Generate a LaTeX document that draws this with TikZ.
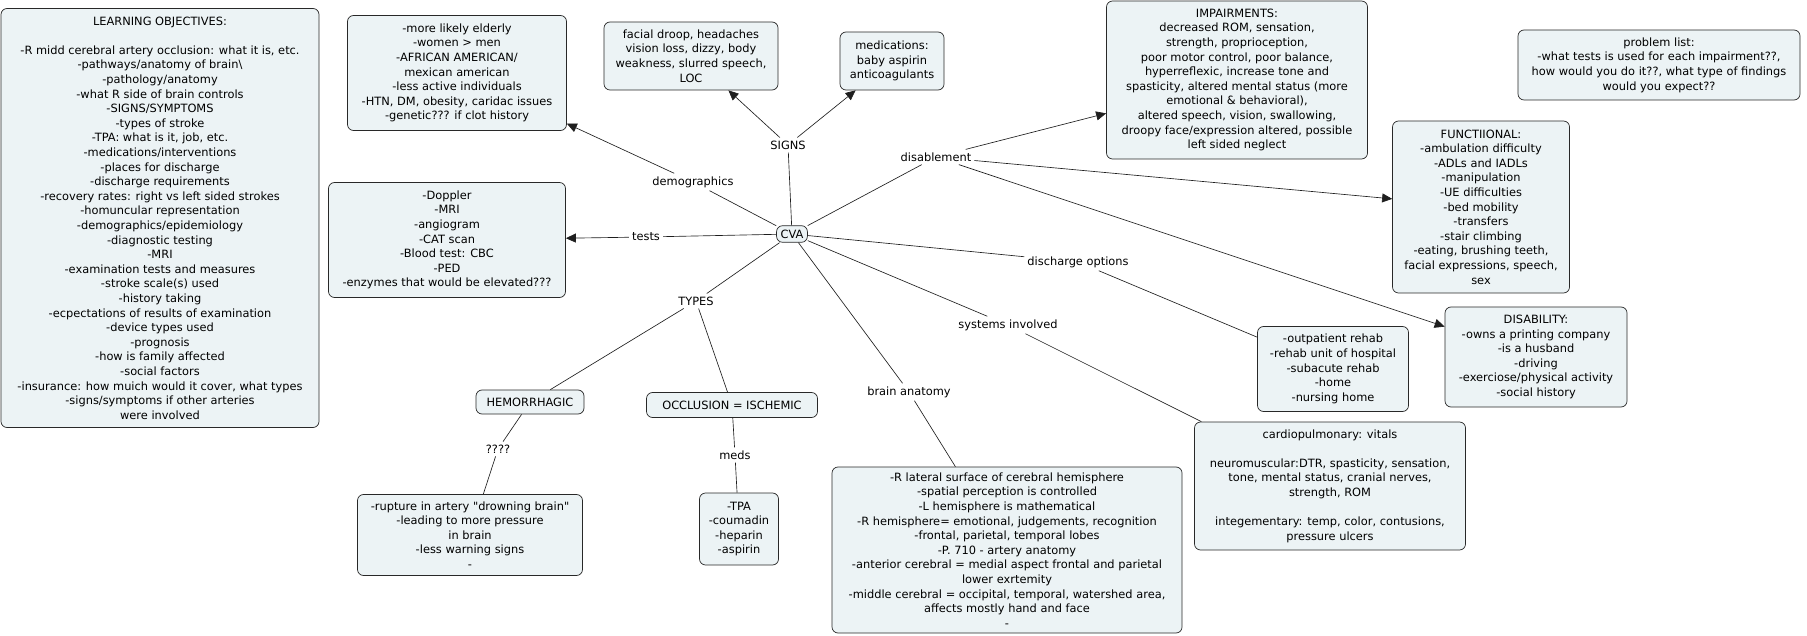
\documentclass[tikz,border=0pt]{standalone}
\usepackage{fontspec}
\setmainfont{DejaVu Sans}
\usetikzlibrary{arrows.meta,positioning}
\definecolor{boxfill}{RGB}{236,243,245}
\definecolor{boxline}{RGB}{40,40,40}
\definecolor{linkline}{RGB}{30,30,30}

\begin{document}
\begin{tikzpicture}[x=1pt,y=-1pt,>={Triangle[length=10pt,width=9pt]},
font=\fontsize{11.4}{14.6}\selectfont,
concept/.style={draw=boxline,fill=boxfill,rounded corners=6pt,align=center,
inner sep=4pt,line width=0.7pt},
phrase/.style={inner sep=3pt},
every edge/.append style={draw=linkline,line width=0.65pt}]
\useasboundingbox (0,0) rectangle (1807,636);

% the hub and its link phrases
\node[concept] (cva) at (792,234) {CVA};
\node[phrase] (signs) at (788,145) {SIGNS};
\node[phrase] (demog) at (693,182) {demographics};
\node[phrase] (tests) at (646,237) {tests};
\node[phrase] (types) at (696,301) {TYPES};
\node[phrase] (disable) at (936,157) {disablement};
\node[phrase] (disch) at (1078,262) {discharge options};
\node[phrase] (systems) at (1008,325) {systems involved};
\node[phrase] (anatomy) at (909,392) {brain anatomy};
\node[phrase] (unknown) at (498,449) {????};
\node[phrase] (meds) at (735,455) {meds};

% concepts
\node[concept,minimum width=318pt,minimum height=419pt] (learn) at (160,218)
{LEARNING OBJECTIVES:\\[14.6pt]
-R midd cerebral artery occlusion: what it is, etc.\\
-pathways/anatomy of brain\textbackslash\\
-pathology/anatomy\\
-what R side of brain controls\\
-SIGNS/SYMPTOMS\\
-types of stroke\\
-TPA: what is it, job, etc.\\
-medications/interventions\\
-places for discharge\\
-discharge requirements\\
-recovery rates: right vs left sided strokes\\
-homuncular representation\\
-demographics/epidemiology\\
-diagnostic testing\\
-MRI\\
-examination tests and measures\\
-stroke scale(s) used\\
-history taking\\
-ecpectations of results of examination\\
-device types used\\
-prognosis\\
-how is family affected\\
-social factors\\
-insurance: how muich would it cover, what types\\
-signs/symptoms if other arteries\\
were involved};
\node[concept,minimum width=219pt,minimum height=115pt] (demobox) at (457,73)
{-more likely elderly\\
-women > men\\
-AFRICAN AMERICAN/\\
mexican american\\
-less active individuals\\
-HTN, DM, obesity, caridac issues\\
-genetic??? if clot history};
\node[concept,minimum width=174pt,minimum height=68pt] (sigbox) at (691,56)
{facial droop, headaches\\
vision loss, dizzy, body\\
weakness, slurred speech,\\
LOC};
\node[concept,minimum width=104pt,minimum height=58pt] (medbox) at (892,61)
{medications:\\
baby aspirin\\
anticoagulants};
\node[concept,minimum width=261pt,minimum height=158pt] (impair) at (1237,80)
{IMPAIRMENTS:\\
decreased ROM, sensation,\\
strength, proprioception,\\
poor motor control, poor balance,\\
hyperreflexic, increase tone and\\
spasticity, altered mental status (more\\
emotional \& behavioral),\\
altered speech, vision, swallowing,\\
droopy face/expression altered, possible\\
left sided neglect};
\node[concept,minimum width=282pt,minimum height=70pt] (problem) at (1659,65)
{problem list:\\
-what tests is used for each impairment??,\\
how would you do it??, what type of findings\\
would you expect??};
\node[concept,minimum width=177pt,minimum height=172pt] (func) at (1481,207)
{FUNCTIIONAL:\\
-ambulation difficulty\\
-ADLs and IADLs\\
-manipulation\\
-UE difficulties\\
-bed mobility\\
-transfers\\
-stair climbing\\
-eating, brushing teeth,\\
facial expressions, speech,\\
sex};
\node[concept,minimum width=182pt,minimum height=100pt] (disab) at (1536,357)
{DISABILITY:\\
-owns a printing company\\
-is a husband\\
-driving\\
-exerciose/physical activity\\
-social history};
\node[concept,minimum width=151pt,minimum height=85pt] (dischbox) at (1333,369)
{-outpatient rehab\\
-rehab unit of hospital\\
-subacute rehab\\
-home\\
-nursing home};
\node[concept,minimum width=271pt,minimum height=128pt] (cardio) at (1330,486)
{cardiopulmonary: vitals\\[14.6pt]
neuromuscular:DTR, spasticity, sensation,\\
tone, mental status, cranial nerves,\\
strength, ROM\\[14.6pt]
integementary: temp, color, contusions,\\
pressure ulcers};
\node[concept,minimum width=350pt,minimum height=166pt] (anatbox) at (1007,550)
{-R lateral surface of cerebral hemisphere\\
-spatial perception is controlled\\
-L hemisphere is mathematical\\
-R hemisphere= emotional, judgements, recognition\\
-frontal, parietal, temporal lobes\\
-P. 710 - artery anatomy\\
-anterior cerebral = medial aspect frontal and parietal\\
lower exrtemity\\
-middle cerebral = occipital, temporal, watershed area,\\
affects mostly hand and face\\
-};
\node[concept,minimum width=79pt,minimum height=72pt] (tpa) at (739,529)
{-TPA\\
-coumadin\\
-heparin\\
-aspirin};
\node[concept,minimum width=225pt,minimum height=81pt] (hembox) at (470,535)
{-rupture in artery \textquotedbl drowning brain\textquotedbl\\
-leading to more pressure\\
in brain\\
-less warning signs\\
-};
\node[concept,minimum width=108pt,minimum height=24pt] (hem) at (530,402) {HEMORRHAGIC};
\node[concept,minimum width=171pt,minimum height=25pt] (occl) at (732,405) {OCCLUSION = ISCHEMIC};
\node[concept,minimum width=237pt,minimum height=115pt] (testbox) at (447,240)
{-Doppler\\
-MRI\\
-angiogram\\
-CAT scan\\
-Blood test: CBC\\
-PED\\
-enzymes that would be elevated???};

% connectors
\path (cva) edge (signs)
(signs) edge[->] (sigbox)
edge[->] (medbox)
(cva) edge (demog)
(demog) edge[->] (demobox)
(cva) edge (tests)
(tests) edge[->] (testbox)
(cva) edge (types)
(types) edge (hem)
edge (occl)
(hem) edge (unknown)
(unknown) edge (hembox)
(occl) edge (meds)
(meds) edge (tpa)
(cva) edge (disable)
(disable) edge[->] (impair)
edge[->] (func)
edge[->] (disab)
(cva) edge (disch)
(disch) edge (dischbox)
(cva) edge (systems)
(systems) edge (cardio)
(cva) edge (anatomy)
(anatomy) edge (anatbox);
\end{tikzpicture}
\end{document}
